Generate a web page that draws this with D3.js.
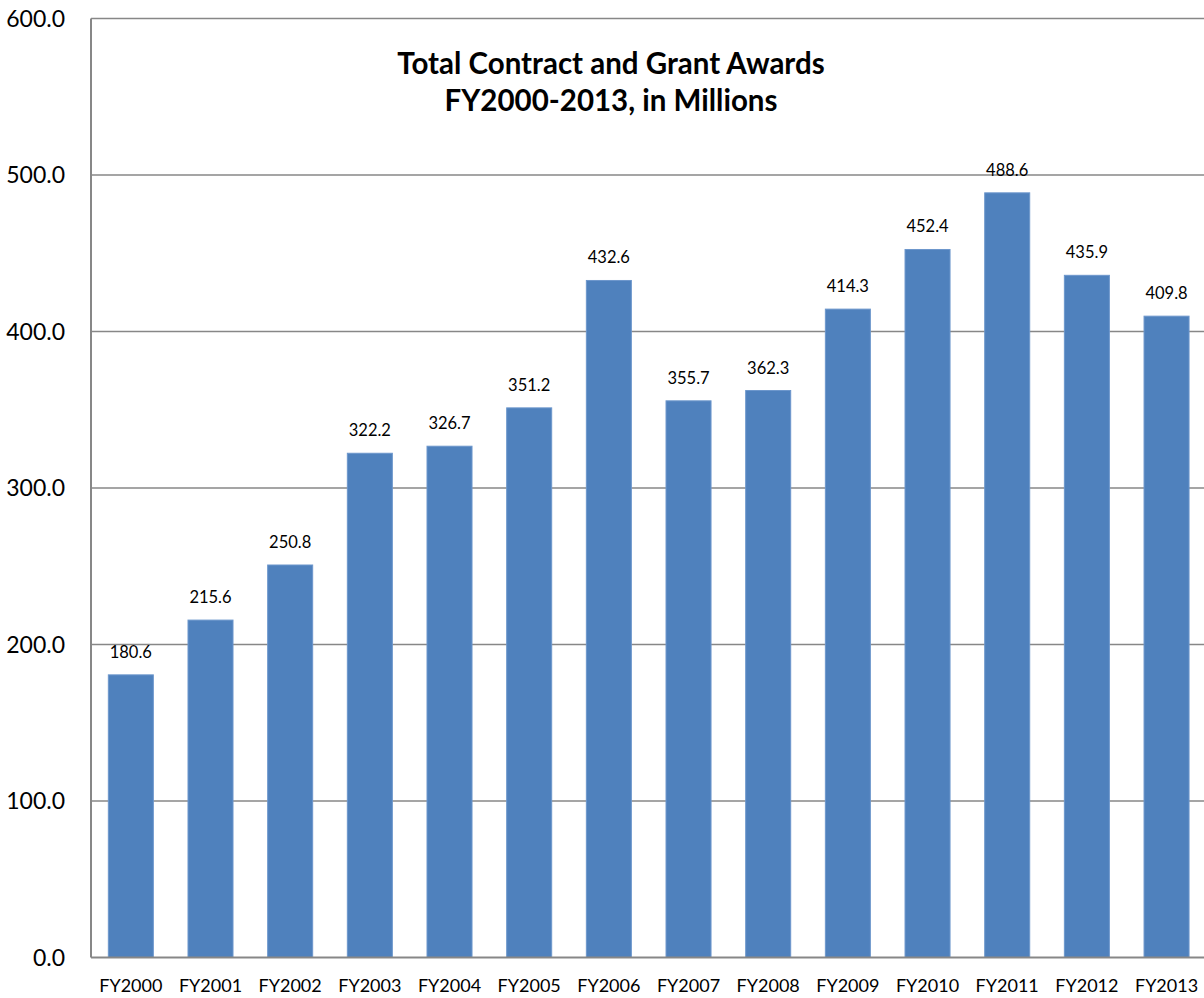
<!DOCTYPE html>
<html><head><meta charset="utf-8">
<script src="https://cdn.jsdelivr.net/npm/d3@7"></script>
<style>body{margin:0;background:#fff;overflow:hidden}svg{display:block}</style>
</head><body>
<svg id="c" width="1204" height="998"></svg>
<script>
const categories = ["FY2000","FY2001","FY2002","FY2003","FY2004","FY2005","FY2006","FY2007","FY2008","FY2009","FY2010","FY2011","FY2012","FY2013"];
const values = [180.6,215.6,250.8,322.2,326.7,351.2,432.6,355.7,362.3,414.3,452.4,488.6,435.9,409.8];
const yTicks = [0,100,200,300,400,500,600];
const titleLines = ["Total Contract and Grant Awards","FY2000-2013, in Millions"];

(function(){
const svg = d3.select("#c");
const font = "Lato, 'Open Sans', sans-serif";
const pLeft = 91, pTop = 18.5, pBottom = 957.5, pRight = 91 + 14*79.67;
const x = d3.scaleBand().domain(categories).range([pLeft, pRight]).paddingInner(0.435).paddingOuter(0.2175);
const y = d3.scaleLinear().domain([0,600]).range([pBottom, pTop]);

// gridlines
svg.append("g").selectAll("line").data(yTicks.filter(d=>d>0)).join("line")
  .attr("x1", pLeft).attr("x2", 1204).attr("y1", d=>y(d)).attr("y2", d=>y(d))
  .attr("stroke", "#878787").attr("stroke-width", 1.5);

// bars
svg.append("g").selectAll("rect").data(values).join("rect")
  .attr("x", (d,i)=>x(categories[i])).attr("width", x.bandwidth())
  .attr("y", d=>y(d)).attr("height", d=>pBottom - y(d))
  .attr("fill", "#4F81BD").attr("stroke", "#6D97CC").attr("stroke-width", 1);

// axes lines
svg.append("line").attr("x1", pLeft).attr("x2", pLeft).attr("y1", pTop).attr("y2", pBottom)
  .attr("stroke", "#878787").attr("stroke-width", 2);
svg.append("line").attr("x1", pLeft).attr("x2", 1204).attr("y1", pBottom).attr("y2", pBottom)
  .attr("stroke", "#878787").attr("stroke-width", 2);

// y tick labels
svg.append("g").selectAll("text").data(yTicks).join("text")
  .attr("x", 65).attr("y", d=>y(d)+8).attr("text-anchor","end")
  .attr("font-family", font).attr("font-size", 23).attr("fill","#000")
  .text(d=>d3.format(".1f")(d));

// x labels
svg.append("g").selectAll("text").data(categories).join("text")
  .attr("x", d=>x(d)+x.bandwidth()/2).attr("y", 992).attr("text-anchor","middle")
  .attr("font-family", font).attr("font-size", 18).attr("fill","#000")
  .text(d=>d);

// data labels
svg.append("g").selectAll("text").data(values).join("text")
  .attr("x", (d,i)=>x(categories[i])+x.bandwidth()/2).attr("y", d=>y(d)-17).attr("text-anchor","middle")
  .attr("font-family", font).attr("font-size", 16.5).attr("fill","#000")
  .text(d=>d3.format(".1f")(d));

// title
svg.append("g").selectAll("text").data(titleLines).join("text")
  .attr("x", 611).attr("y", (d,i)=>74 + i*37).attr("text-anchor","middle")
  .attr("font-family", font).attr("font-weight","bold").attr("font-size", 29.5).attr("fill","#000")
  .text(d=>d);
})();
</script>
</body></html>
